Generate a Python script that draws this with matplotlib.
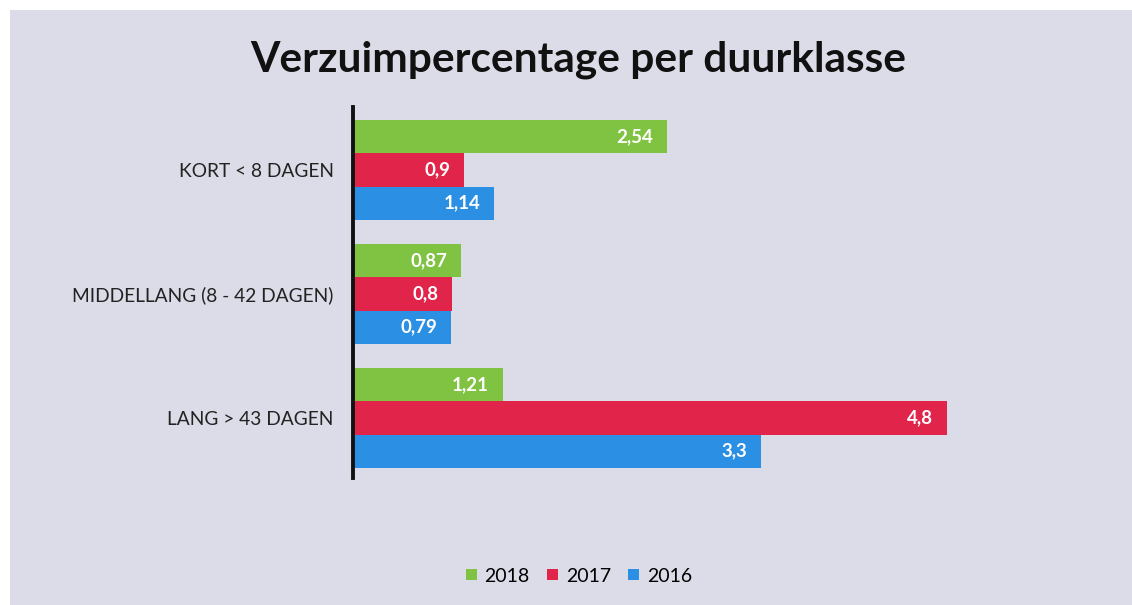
import matplotlib.pyplot as plt
import numpy as np
from matplotlib.patches import Rectangle

categories = ["KORT < 8 DAGEN", "MIDDELLANG (8 - 42 DAGEN)", "LANG > 43 DAGEN"]
years = ["2018", "2017", "2016"]
v2018 = [2.54, 0.87, 1.21]
v2017 = [0.9, 0.8, 4.8]
v2016 = [1.14, 0.79, 3.3]
labels2018 = ["2,54", "0,87", "1,21"]
labels2017 = ["0,9", "0,8", "4,8"]
labels2016 = ["1,14", "0,79", "3,3"]

colors = ["#80c342", "#e1244a", "#2b8fe3"]
bg = "#dcdce8"

fig = plt.figure(figsize=(11.32, 6.05), dpi=100, facecolor="white")
fig.patches.append(Rectangle((10 / 1132, 0), 1, 1 - 10 / 605, transform=fig.transFigure,
                             facecolor=bg, edgecolor="none", zorder=-10))

ax = fig.add_axes([353 / 1132, 1 - 478 / 605, 742 / 1132, 371 / 605])
ax.set_facecolor("none")

y = np.arange(len(categories))[::-1]
h = 0.268
series = [(v2018, labels2018), (v2017, labels2017), (v2016, labels2016)]
for i, (vals, labs) in enumerate(series):
    ypos = y + (1 - i) * h
    bars = ax.barh(ypos, vals, height=h, color=colors[i], label=years[i])
    for b, lab in zip(bars, labs):
        ax.text(b.get_width() - 0.11, b.get_y() + b.get_height() / 2, lab,
                ha="right", va="center", color="white", fontsize=13.5,
                fontweight="bold", family="Lato")

ax.set_xlim(0, 6.0)
ax.set_ylim(-0.484, 2.508)
ax.set_yticks(y)
ax.set_yticklabels(categories, fontsize=13.8, family="Lato", color="#222222")
ax.tick_params(axis="y", length=0, pad=14)
ax.set_xticks([])
for s in ["top", "right", "bottom"]:
    ax.spines[s].set_visible(False)
ax.spines["left"].set_linewidth(2.8)
ax.spines["left"].set_color("#111111")

fig.text(578 / 1132, 1 - 60 / 605, "Verzuimpercentage per duurklasse",
         ha="center", va="center", fontsize=30.5, fontweight="bold",
         family="Lato", color="#111111")

leg = ax.legend(loc="center", bbox_to_anchor=(579 / 1132, 1 - 576 / 605),
                bbox_transform=fig.transFigure, ncol=3, frameon=False,
                prop={"family": "Lato", "size": 14},
                handlelength=0.55, handleheight=0.55, handletextpad=0.4,
                columnspacing=0.9)

fig.savefig("out.png", dpi=100, facecolor=fig.get_facecolor())
